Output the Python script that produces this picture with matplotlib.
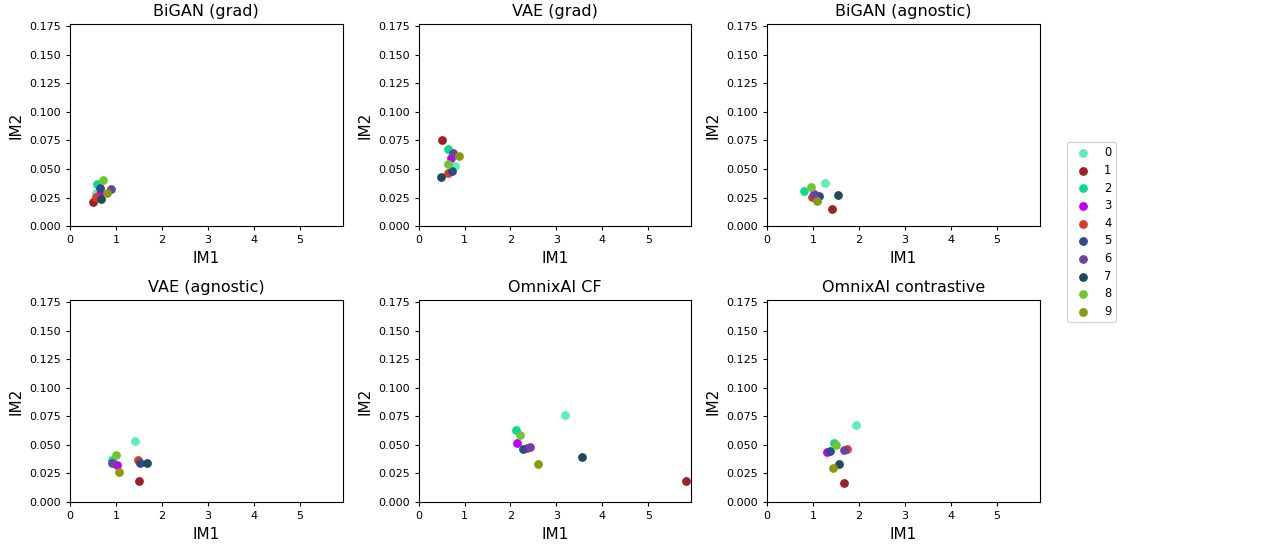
import matplotlib
matplotlib.use("Agg")
import matplotlib.pyplot as plt
import numpy as np

# IM1 / IM2 scores per digit class for each explainer
titles = ["BiGAN (grad)", "VAE (grad)", "BiGAN (agnostic)",
          "VAE (agnostic)", "OmnixAI CF", "OmnixAI contrastive"]
classes = [str(i) for i in range(10)]
colors = ["#5ef0b0", "#9b2226", "#0ad98e", "#c000f0", "#d93a2e",
          "#2e4a8a", "#6a45a0", "#1f4a5e", "#6cc832", "#8a9a10"]

bigan_grad_im1 = [0.57, 0.51, 0.58, 0.65, 0.57, 0.65, 0.89, 0.67, 0.72, 0.80]
bigan_grad_im2 = [0.029, 0.0213, 0.0373, 0.0282, 0.0259, 0.033, 0.0322, 0.0236, 0.0403, 0.029]

vae_grad_im1 = [0.80, 0.50, 0.64, 0.71, 0.65, 0.72, 0.74, 0.49, 0.65, 0.89]
vae_grad_im2 = [0.0526, 0.0757, 0.0675, 0.0593, 0.0468, 0.048, 0.0644, 0.0434, 0.0546, 0.061]

bigan_agn_im1 = [1.25, 1.41, 0.80, 1.02, 0.98, 1.13, 1.03, 1.54, 0.95, 1.09]
bigan_agn_im2 = [0.0376, 0.0147, 0.0305, 0.0278, 0.0253, 0.0267, 0.0276, 0.027, 0.0339, 0.0216]

vae_agn_im1 = [1.41, 1.49, 0.92, 1.03, 1.48, 1.52, 0.91, 1.67, 1.01, 1.07]
vae_agn_im2 = [0.0534, 0.0184, 0.0368, 0.0322, 0.0368, 0.0342, 0.0339, 0.0342, 0.0411, 0.0259]

cf_im1 = [3.18, 5.83, 2.11, 2.14, 2.35, 2.27, 2.42, 3.55, 2.21, 2.59]
cf_im2 = [0.0759, 0.0181, 0.0629, 0.0517, 0.0474, 0.0466, 0.0485, 0.0394, 0.0583, 0.0333]

contr_im1 = [1.93, 1.67, 1.46, 1.30, 1.74, 1.36, 1.67, 1.56, 1.50, 1.43]
contr_im2 = [0.0675, 0.017, 0.052, 0.0442, 0.0468, 0.0448, 0.0454, 0.0333, 0.0503, 0.0296]

im1_all = [bigan_grad_im1, vae_grad_im1, bigan_agn_im1, vae_agn_im1, cf_im1, contr_im1]
im2_all = [bigan_grad_im2, vae_grad_im2, bigan_agn_im2, vae_agn_im2, cf_im2, contr_im2]

fig, axes = plt.subplots(2, 3, figsize=(12.85, 5.46), dpi=100)
fig.subplots_adjust(left=0.0545, right=0.809, top=0.956, bottom=0.0806,
                    wspace=0.279, hspace=0.365)

for ax, title, xs, ys in zip(axes.flat, titles, im1_all, im2_all):
    for k in range(len(classes)):
        ax.scatter(xs[k], ys[k], color=colors[k], s=28, label=classes[k])
    ax.set_title(title, fontsize=11.5)
    ax.set_xlabel("IM1", fontsize=11)
    ax.set_ylabel("IM2", fontsize=11)
    ax.set_xlim(0, 5.93)
    ax.set_ylim(0, 0.177)
    ax.set_xticks([0, 1, 2, 3, 4, 5])
    ax.set_yticks(np.arange(0, 0.176, 0.025))
    ax.yaxis.set_major_formatter(matplotlib.ticker.FormatStrFormatter("%.3f"))
    ax.tick_params(labelsize=8, length=3)

handles, labels = axes[0, 2].get_legend_handles_labels()
fig.legend(handles, labels, loc="center left", bbox_to_anchor=(0.826, 0.575),
           fontsize=8.3, labelspacing=0.4)

plt.savefig("out.png")
